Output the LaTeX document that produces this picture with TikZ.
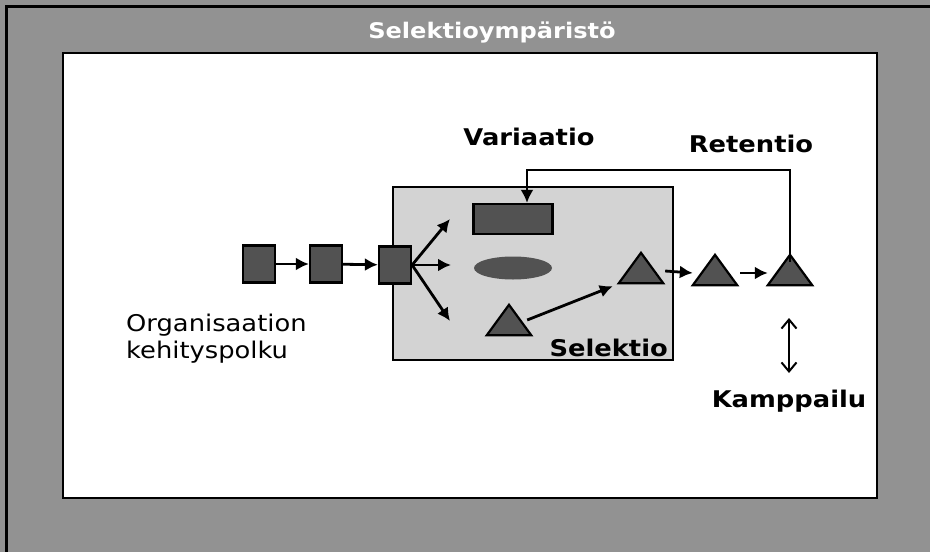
\documentclass[tikz,border=0pt]{standalone}
\usepackage{fontspec}
\setmainfont{DejaVu Sans}[FakeStretch=1.12]
\usetikzlibrary{arrows.meta,shapes.geometric}
\definecolor{framegray}{RGB}{146,146,146}
\definecolor{boxgray}{RGB}{211,211,211}
\definecolor{shapegray}{RGB}{82,82,82}
\tikzset{
  flow/.style={line width=2.8pt,-{Latex[length=13pt,width=13pt]}},
  darkshape/.style={draw=black,line width=2.2pt,fill=shapegray},
  label/.style={font=\fontsize{23}{27}\selectfont\bfseries,inner sep=0pt},
  plain/.style={font=\fontsize{23}{27}\selectfont,inner sep=0pt,align=left},
  sq/.style={darkshape,minimum width=32pt,minimum height=37pt,inner sep=0pt},
  trislot/.style={minimum width=44pt,minimum height=30pt,inner sep=0pt},
}
\begin{document}
\begin{tikzpicture}[x=1pt,y=-1pt]
  \useasboundingbox (0,0) rectangle (930,552);
  % outer environment frame
  \fill[framegray] (0,0) rectangle (930,552);
  \draw[line width=3pt] (6,560) -- (6,6) -- (940,6);
  \node[label,text=white,font=\fontsize{21.5}{26}\selectfont\bfseries] (title) at (492,32) {Selektioympäristö};
  % inner white field
  \draw[fill=white,line width=2.6pt] (63,53) rectangle (877,498);
  % selection box
  \node[draw=black,line width=2.4pt,fill=boxgray,minimum width=280pt,minimum height=173pt,inner sep=0pt] (selbox) at (533,273.5) {};
  \node[label,anchor=south east] (sel) at (668,357) {Selektio};

  % organisation path
  \node[sq] (s1) at (259,264) {};
  \node[sq] (s2) at (326,264) {};
  \node[sq] (s3) at (395,265) {};
  \draw[flow] (s1) -- (s2);
  \draw[flow] (s2) -- (s3);
  \node[plain,anchor=west] (org) at (126,339) {Organisaation\\kehityspolku};

  % variations inside the box
  \node[darkshape,minimum width=79pt,minimum height=30pt,inner sep=0pt] (var) at (513,219) {};
  \node[darkshape,draw=none,ellipse,minimum width=78pt,minimum height=23pt,inner sep=0pt] (ell) at (513,268) {};
  \node[trislot] (t0) at (509,320) {};
  \coordinate (f1) at (450,219);
  \coordinate (f2) at (451,265);
  \coordinate (f3) at (450,321);
  \draw[flow] (s3.east) -- (f1);
  \draw[flow] (s3.east) -- (f2);
  \draw[flow] (s3.east) -- (f3);

  % retained variants
  \node[trislot] (t1) at (641,268) {};
  \node[trislot] (t2) at (715,270) {};
  \node[trislot] (t3) at (790,270) {};
  \foreach \t in {t0,t1,t2,t3}
    \draw[darkshape,line join=miter] (\t.south west) -- (\t.north) -- (\t.south east) -- cycle;
  \draw[flow] ([xshift=-4pt]t0.east) -- ([xshift=-6pt,yshift=-3pt]t1.south west);
  \draw[flow] ([xshift=2pt,yshift=-3pt]t1.east) -- ([xshift=0pt,yshift=-3pt]t2.west);
  \draw[flow] ([xshift=3pt,yshift=-3pt]t2.east) -- ([xshift=0pt,yshift=-3pt]t3.west);

  % retention feedback
  \coordinate (rt) at (527,170);
  \draw[flow] ([yshift=-7pt]t3.north) -- (t3.north |- rt) -- (rt) -- (rt |- var.north);

  % competition
  \coordinate (k1) at (789,318);
  \coordinate (k2) at (789,373);
  \draw[line width=2pt,{Straight Barb[length=9pt,width=15pt]}-{Straight Barb[length=9pt,width=15pt]}] (k1) -- (k2);

  % labels
  \node[label] (lvar) at (529,137) {Variaatio};
  \node[label] (lret) at (751,144) {Retentio};
  \node[label] (lkam) at (789,401) {Kamppailu};
\end{tikzpicture}
\end{document}
